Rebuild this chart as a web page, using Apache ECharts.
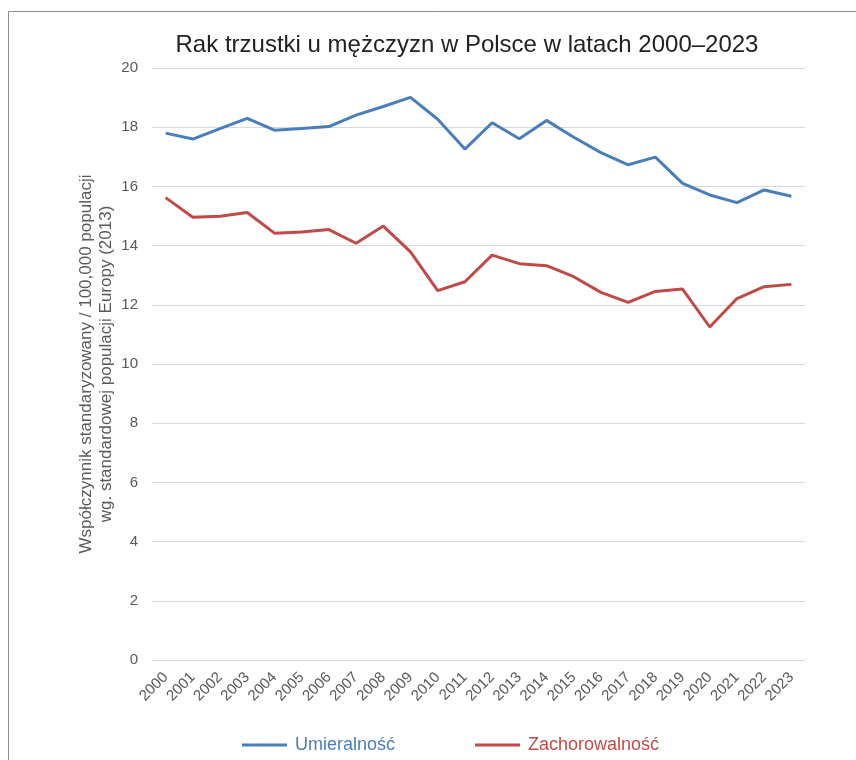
<!DOCTYPE html>
<html>
<head>
<meta charset="utf-8">
<script src="https://cdn.jsdelivr.net/npm/echarts@6/dist/echarts.min.js"></script>
<style>html,body{margin:0;padding:0;background:#fff}#c{width:856px;height:760px}</style>
</head>
<body>
<div id="c"></div>
<script>
const years = ['2000','2001','2002','2003','2004','2005','2006','2007','2008','2009','2010','2011','2012','2013','2014','2015','2016','2017','2018','2019','2020','2021','2022','2023'];
const umieralnosc = [17.8,17.6,17.95,18.3,17.9,17.96,18.02,18.41,18.7,19.01,18.27,17.26,18.15,17.61,18.23,17.66,17.14,16.73,16.99,16.1,15.71,15.45,15.88,15.67];
const zachorowalnosc = [15.62,14.96,14.99,15.12,14.42,14.46,14.54,14.08,14.66,13.79,12.48,12.78,13.68,13.39,13.32,12.95,12.42,12.08,12.45,12.53,11.25,12.21,12.61,12.69];
const yTicks = [0,2,4,6,8,10,12,14,16,18,20];

const chart = echarts.init(document.getElementById('c'), null, {renderer:'canvas'});
const FONT = '"Liberation Sans", Arial, sans-serif';
chart.setOption({
  animation:false,
  textStyle:{fontFamily:FONT},
  graphic:[{type:'rect', shape:{x:8.5,y:11.5,width:900,height:800}, style:{fill:'none',stroke:'#8c8c8c',lineWidth:1}, silent:true, z:-1}],
  title:{text:'Rak trzustki u mężczyzn w Polsce w latach 2000–2023', left:462, textAlign:'center', top:28,
    textStyle:{fontFamily:FONT,fontSize:24,fontWeight:'normal',color:'#222'}},
  grid:{left:152,right:51,top:68,bottom:100},
  legend:{left:237, top:731, itemWidth:45, itemHeight:3, itemGap:80,
    icon:'rect',
    data:[{name:'Umieralność',textStyle:{color:'#4a7ebb'}},{name:'Zachorowalność',textStyle:{color:'#be4b48'}}],
    textStyle:{fontFamily:FONT,fontSize:18,padding:[0,0,0,3]}},
  xAxis:{type:'category',data:years,boundaryGap:true,
    axisLine:{show:false},axisTick:{show:false},
    axisLabel:{rotate:45,interval:0,margin:15,color:'#595959',fontSize:15,fontFamily:FONT}},
  yAxis:{type:'value',min:yTicks[0],max:yTicks[yTicks.length-1],interval:2,
    name:'Współczynnik standaryzowany / 100,000 populacji\nwg. standardowej populacji Europy (2013)',
    nameLocation:'middle',nameGap:36,nameRotate:90,nameMoveOverlap:false,
    nameTextStyle:{color:'#595959',fontSize:17,lineHeight:20,fontFamily:FONT},
    axisLine:{show:false},axisTick:{show:false},
    axisLabel:{color:'#595959',fontSize:15,margin:14,fontFamily:FONT},
    splitLine:{lineStyle:{color:'#d9d9d9',width:1}}},
  series:[
    {name:'Umieralność',type:'line',data:umieralnosc,symbol:'none',lineStyle:{color:'#4a7ebb',width:3},itemStyle:{color:'#4a7ebb'}},
    {name:'Zachorowalność',type:'line',data:zachorowalnosc,symbol:'none',lineStyle:{color:'#be4b48',width:3},itemStyle:{color:'#be4b48'}}
  ]
});
</script>
</body>
</html>
